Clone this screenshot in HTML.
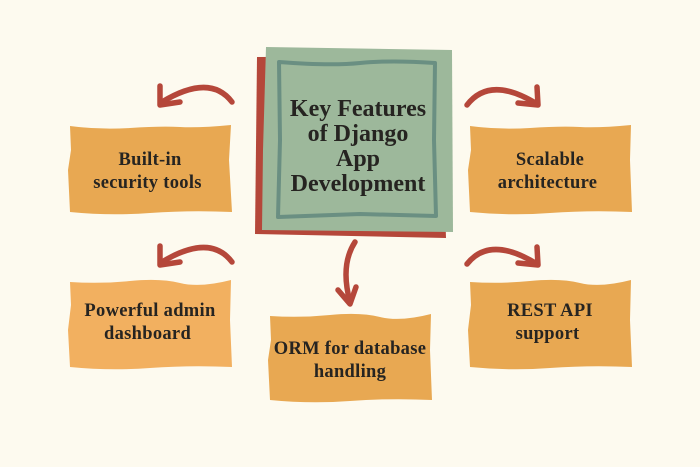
<!DOCTYPE html>
<html><head><meta charset="utf-8"><style>
html,body{margin:0;padding:0;background:#fdfaef;}
svg{display:block}
text{font-family:"Liberation Serif",serif;font-weight:bold;fill:#262421;text-anchor:middle}
</style></head><body>
<svg width="700" height="467" viewBox="0 0 700 467">
<rect width="700" height="467" fill="#fdfaef"/>
<path d="M257,57 L440,56 L446,238 L255,234 Z" fill="#b5473a"/>
<path d="M266,47 L452,50 L453,232 L262,230 L263,150 Z" fill="#9db89b"/>
<path d="M279,62 Q330,66 360,63 T435,63 L434,140 L436,216 L360,214 L278,217 L280,140 Z" fill="none" stroke="#6a8f82" stroke-width="4" stroke-linejoin="round"/>
<text font-size="24"><tspan x="358" y="116">Key Features</tspan><tspan x="358" y="141">of Django</tspan><tspan x="358" y="166">App</tspan><tspan x="358" y="191">Development</tspan></text>
<g fill="#e8a852">
<path d="M70,126 Q100,130 130,128 T180,127 T231,125 L229,160 L232,212 Q190,210 150,213 T70,212 L68,170 L71,150 Z"/>
<path d="M470,126 Q500,130 530,128 T580,127 T631,125 L630,160 L632,212 Q590,210 550,213 T470,212 L468,170 L471,150 Z"/>
<path d="M470,282 Q500,284 530,281 T580,283 T631,280 L630,320 L632,367 Q590,365 550,368 T470,367 L468,330 L471,305 Z"/>
<path d="M270,316 Q300,318 330,315 T380,317 T431,314 L430,350 L432,400 Q390,398 350,401 T270,400 L268,360 L271,340 Z"/>
</g>
<path fill="#f2b060" d="M70,282 Q100,284 130,281 T180,283 T231,280 L230,320 L232,367 Q190,365 150,368 T70,367 L68,330 L71,305 Z"/>
<text font-size="18.5" letter-spacing="0.3">
<tspan x="150" y="165">Built-in</tspan><tspan x="150" y="188">security tools</tspan>
<tspan x="550" y="165">Scalable</tspan><tspan x="550" y="188">architecture</tspan>
<tspan x="150" y="316">Powerful admin</tspan><tspan x="150" y="339">dashboard</tspan>
<tspan x="550" y="316">REST API</tspan><tspan x="550" y="339">support</tspan>
<tspan x="350" y="354">ORM for database</tspan><tspan x="350" y="377">handling</tspan>
</text>
<g fill="none" stroke="#b5473a" stroke-width="5.5" stroke-linecap="round" stroke-linejoin="round">
<path d="M467,105 Q490,75 537,104"/><path d="M537,87 L538,105 L518,103"/>
<path d="M467,264 Q490,235 537,264"/><path d="M537,247 L538,265 L518,263"/>
<path d="M232,102 Q210,73 162,102"/><path d="M160,86 L160,105 L180,102"/>
<path d="M232,262 Q210,233 162,262"/><path d="M160,246 L160,265 L180,262"/>
<path d="M355,242 Q340,265 350,302"/><path d="M338,290 L350,304 L356,287"/>
</g>
</svg>
</body></html>
